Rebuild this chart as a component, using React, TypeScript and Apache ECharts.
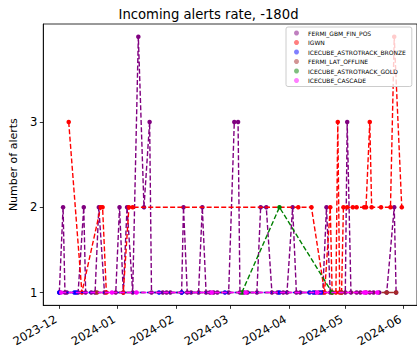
import React, { useEffect, useRef } from "react";
import * as echarts from "echarts";

// ---- data (date, number of alerts that day) ----
const FERMI_GBM_FIN_POS: [string, number][] = [
  ["2023-12-01", 1], ["2023-12-03", 2], ["2023-12-04", 1], ["2023-12-05", 1], ["2023-12-11", 1],
  ["2023-12-14", 2], ["2023-12-15", 1], ["2023-12-18", 1], ["2023-12-20", 1], ["2023-12-22", 2],
  ["2023-12-25", 1], ["2023-12-31", 1], ["2024-01-02", 2], ["2024-01-04", 1], ["2024-01-06", 2],
  ["2024-01-09", 1], ["2024-01-12", 4], ["2024-01-15", 2], ["2024-01-18", 3], ["2024-01-19", 1],
  ["2024-01-25", 1], ["2024-01-27", 1], ["2024-01-29", 1], ["2024-02-04", 1], ["2024-02-05", 2],
  ["2024-02-07", 1], ["2024-02-09", 1], ["2024-02-13", 1], ["2024-02-15", 2], ["2024-02-17", 1],
  ["2024-02-19", 1], ["2024-02-21", 1], ["2024-02-23", 1], ["2024-02-29", 1], ["2024-03-03", 3],
  ["2024-03-05", 3], ["2024-03-06", 1], ["2024-03-08", 1], ["2024-03-10", 1], ["2024-03-15", 1],
  ["2024-03-17", 2], ["2024-03-20", 2], ["2024-03-23", 1], ["2024-03-26", 1], ["2024-03-29", 1],
  ["2024-03-31", 1], ["2024-04-03", 2], ["2024-04-05", 1], ["2024-04-07", 1], ["2024-04-15", 1],
  ["2024-04-17", 1], ["2024-04-19", 1], ["2024-04-21", 2], ["2024-04-23", 1], ["2024-05-01", 1],
  ["2024-05-02", 3], ["2024-05-04", 1], ["2024-05-07", 1], ["2024-05-09", 1], ["2024-05-14", 1],
  ["2024-05-16", 1], ["2024-05-19", 1], ["2024-05-23", 1], ["2024-05-27", 2], ["2024-05-28", 1],
];

const IGWN: [string, number][] = [
  ["2023-12-06", 3], ["2023-12-13", 1], ["2023-12-23", 2], ["2023-12-24", 2], ["2023-12-26", 1],
  ["2024-01-04", 1], ["2024-01-07", 2], ["2024-01-09", 2], ["2024-04-06", 2], ["2024-04-13", 2],
  ["2024-04-20", 1], ["2024-04-23", 2], ["2024-04-24", 1], ["2024-04-26", 1], ["2024-04-27", 3],
  ["2024-04-28", 1], ["2024-04-29", 1], ["2024-04-30", 2], ["2024-05-02", 2], ["2024-05-05", 2],
  ["2024-05-07", 2], ["2024-05-11", 2], ["2024-05-12", 2], ["2024-05-14", 3], ["2024-05-15", 2],
  ["2024-05-20", 2], ["2024-05-25", 2], ["2024-05-27", 4], ["2024-05-31", 2],
];

const ICECUBE_ASTROTRACK_BRONZE: [string, number][] = [
  ["2023-12-01", 1], ["2023-12-09", 1], ["2023-12-10", 1], ["2024-01-23", 1], ["2024-02-04", 1],
  ["2024-02-27", 1], ["2024-03-27", 1], ["2024-04-12", 1], ["2024-04-14", 1], ["2024-04-18", 1],
];

const FERMI_LAT_OFFLINE: [string, number][] = [
  ["2023-12-21", 1], ["2024-04-29", 1], ["2024-05-12", 1], ["2024-05-23", 1], ["2024-05-28", 1],
];

const ICECUBE_ASTROTRACK_GOLD: [string, number][] = [
  ["2024-03-07", 1], ["2024-03-27", 2], ["2024-04-24", 1],
];

const ICECUBE_CASCADE: [string, number][] = [
  ["2023-12-02", 1], ["2023-12-29", 1], ["2024-01-11", 1], ["2024-02-20", 1], ["2024-03-09", 1],
  ["2024-04-16", 1], ["2024-05-11", 1], ["2024-05-12", 1], ["2024-05-18", 1],
];

const seriesNames = [
  "FERMI_GBM_FIN_POS",
  "IGWN",
  "ICECUBE_ASTROTRACK_BRONZE",
  "FERMI_LAT_OFFLINE",
  "ICECUBE_ASTROTRACK_GOLD",
  "ICECUBE_CASCADE",
];
const seriesData = [
  FERMI_GBM_FIN_POS,
  IGWN,
  ICECUBE_ASTROTRACK_BRONZE,
  FERMI_LAT_OFFLINE,
  ICECUBE_ASTROTRACK_GOLD,
  ICECUBE_CASCADE,
];
const seriesColors = ["#800080", "#ff0000", "#0000ff", "#a52a2a", "#008000", "#ff00ff"];
const legendColors = [
  "rgba(128,0,128,0.5)",
  "rgba(255,0,0,0.5)",
  "rgba(0,0,255,0.5)",
  "rgba(165,42,42,0.5)",
  "rgba(0,128,0,0.5)",
  "rgba(255,0,255,0.5)",
];

const monthTicks = [
  "2023-12-01", "2024-01-01", "2024-02-01", "2024-03-01", "2024-04-01", "2024-05-01", "2024-06-01",
];
const yTicks = [1, 2, 3];

const FONT = "DejaVu Sans";
const DAY = 86400000;

function toTs(s: string): number {
  const [y, m, d] = s.split("-").map(Number);
  return Date.UTC(y, m - 1, d);
}

function fmtMonth(v: number): string {
  const dt = new Date(v);
  const y = dt.getUTCFullYear();
  const m = dt.getUTCMonth() + 1;
  return `${y}-${m < 10 ? "0" + m : m}`;
}

export default function App() {
  const ref = useRef<HTMLDivElement>(null);

  useEffect(() => {
    if (!ref.current) return;
    const chart = echarts.init(ref.current, undefined, { renderer: "svg" });
    const x0 = toTs("2023-12-01");
    const xMin = x0 - 8.52 * DAY;
    const xMax = x0 + 190.1 * DAY;
    const monthTs = monthTicks.map(toTs);

    const option: any = {
      animation: false,
      title: {
        text: "Incoming alerts rate, -180d",
        left: "center",
        top: 3,
        textStyle: { fontFamily: FONT, fontSize: 13.2, fontWeight: "normal", color: "#000" },
      },
      legend: {
        orient: "vertical",
        left: 286,
        top: 27,
        itemWidth: 5,
        itemHeight: 5,
        itemGap: 3.5,
        padding: [3, 6, 3, 8],
        backgroundColor: "rgba(255,255,255,0.8)",
        borderColor: "#cccccc",
        borderWidth: 1,
        borderRadius: 2,
        textStyle: { fontFamily: FONT, fontSize: 6, color: "#000", padding: [0, 0, 0, 4] },
        data: seriesNames.map((n, i) => ({
          name: n,
          icon: "circle",
          itemStyle: { color: legendColors[i] },
        })),
      },
      grid: {
        left: 38,
        right: -1,
        top: 24,
        bottom: 42,
        show: true,
        borderColor: "#000",
        borderWidth: 0.8,
        backgroundColor: "transparent",
      },
      xAxis: {
        type: "value",
        min: xMin,
        max: xMax,
        splitLine: { show: false },
        axisLine: { show: true, lineStyle: { color: "#000", width: 0.8 } },
        axisTick: {
          show: true,
          customValues: monthTs,
          length: 3.5,
          lineStyle: { color: "#000", width: 0.8 },
        },
        axisLabel: {
          customValues: monthTs,
          rotate: 30,
          formatter: (v: number) => fmtMonth(v),
          fontFamily: FONT,
          fontSize: 11.6,
          color: "#000",
          margin: 10.8,
          padding: [0, 3.9, 0, 0],
        },
      },
      yAxis: {
        type: "value",
        min: 0.85,
        max: 4.15,
        name: "Number of alerts",
        nameLocation: "middle",
        nameGap: 20,
        nameTextStyle: { fontFamily: FONT, fontSize: 11, color: "#000" },
        splitLine: { show: false },
        axisLine: { show: true, lineStyle: { color: "#000", width: 0.8 } },
        axisTick: {
          show: true,
          customValues: yTicks,
          length: 3.5,
          lineStyle: { color: "#000", width: 0.8 },
        },
        axisLabel: {
          customValues: yTicks,
          fontFamily: FONT,
          fontSize: 11.6,
          color: "#000",
          margin: 6,
        },
      },
      series: seriesNames.map((n, i) => ({
        name: n,
        type: "line",
        data: seriesData[i].map(([d, v]) => [toTs(d), v]),
        symbol: "circle",
        symbolSize: 4.5,
        showSymbol: true,
        showAllSymbol: true,
        z: 2 + i,
        lineStyle: { color: seriesColors[i], width: 1.4, type: [5, 2.3] },
        itemStyle: { color: seriesColors[i] },
        emphasis: { disabled: true },
      })),
    };

    chart.setOption(option);
    return () => chart.dispose();
  }, []);

  return (
    <div
      ref={ref}
      style={{ position: "fixed", left: 0, top: 0, width: 417, height: 349, background: "#fff" }}
    />
  );
}
